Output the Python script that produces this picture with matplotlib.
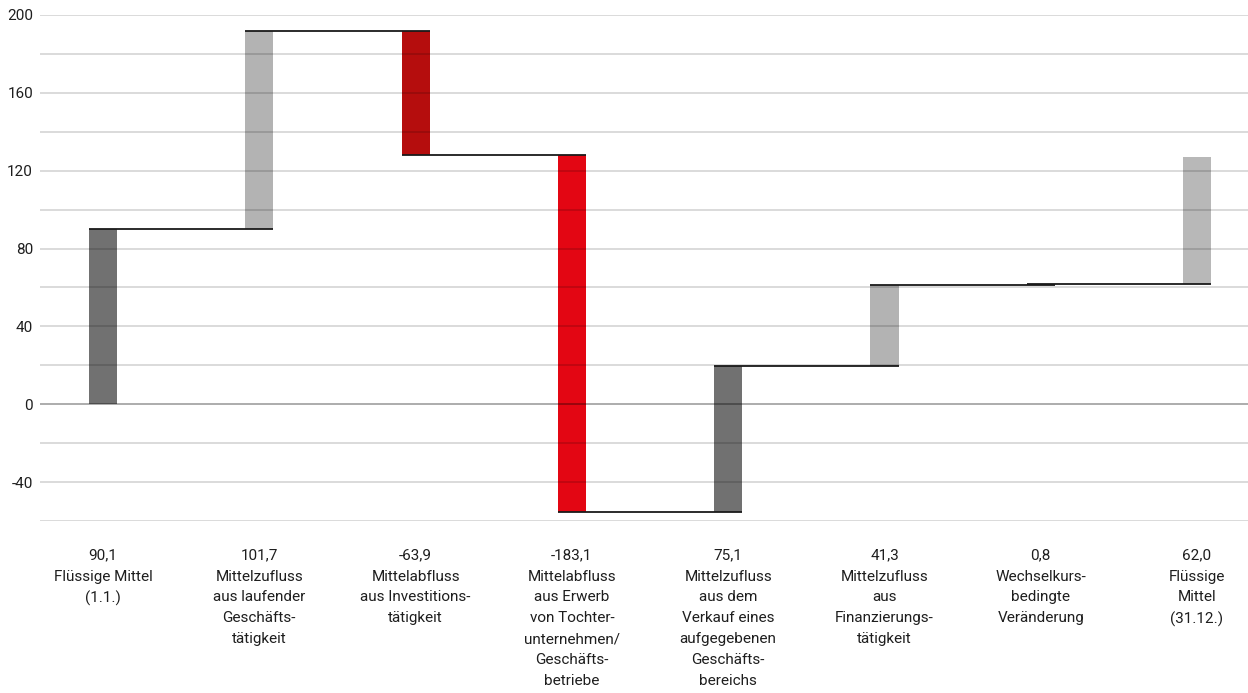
"""Waterfall chart: Entwicklung der flüssigen Mittel."""

import matplotlib
matplotlib.use("Agg")
import matplotlib.pyplot as plt
import numpy as np

plt.rcParams["font.family"] = ["Roboto", "DejaVu Sans"]

# data
VALUE_LABELS = ["90,1", "101,7", "-63,9", "-183,1", "75,1", "41,3", "0,8", "62,0"]
CATEGORIES = [
    "Flüssige Mittel\n(1.1.)",
    "Mittelzufluss\naus laufender\nGeschäfts-\ntätigkeit",
    "Mittelabfluss\naus Investitions-\ntätigkeit",
    "Mittelabfluss\naus Erwerb\nvon Tochter-\nunternehmen/\nGeschäfts-\nbetriebe",
    "Mittelzufluss\naus dem\nVerkauf eines\naufgegebenen\nGeschäfts-\nbereichs",
    "Mittelzufluss\naus\nFinanzierungs-\ntätigkeit",
    "Wechselkurs-\nbedingte\nVeränderung",
    "Flüssige\nMittel\n(31.12.)",
]
DELTAS = [90.1, 101.7, -63.9, -183.1, 75.1, 41.3, 0.8]
# the closing bar floats in the original picture
FINAL_BAR = (62.0, 127.0)

COLORS = ["#717171", "#b3b3b3", "#b50d0d", "#e30613",
          "#717171", "#b3b3b3", "#5a5a5a", "#b8b8b8"]
BAR_W = 0.18

fig = plt.figure(figsize=(12.48, 6.93), dpi=100)
ax = fig.add_axes([40 / 1248, 1 - 521 / 693, 1 - 40 / 1248, (521 - 15) / 693])

levels = np.concatenate([[0.0], np.cumsum(DELTAS)])
bottoms = list(levels[:-1]) + [FINAL_BAR[0]]
heights = list(np.diff(levels)) + [FINAL_BAR[1] - FINAL_BAR[0]]
x = np.arange(len(CATEGORIES))

ax.bar(x, heights, bottom=bottoms, width=BAR_W, color=COLORS, zorder=2)

# connector lines: from left edge of bar i to right edge of bar i+1
for i in range(len(DELTAS)):
    ax.plot([x[i] - BAR_W / 2, x[i + 1] + BAR_W / 2], [levels[i + 1]] * 2,
            color="#1a1a1a", lw=1.3, zorder=3, solid_capstyle="butt")

ax.set_xlim(-0.403, 7.326)
ax.set_ylim(-60, 200)
for g in np.arange(-60, 201, 20):
    ax.axhline(g, color="black", alpha=0.17 if g != 0 else 0.38,
               lw=1.2, zorder=4)

ax.set_yticks(np.arange(-40, 201, 40))
ax.set_yticklabels([str(v) for v in range(-40, 201, 40)], fontsize=11, color="#1e1e1e")
ax.set_xticks(x)
ax.set_xticklabels([f"{v}\n{c}" for v, c in zip(VALUE_LABELS, CATEGORIES)],
                   fontsize=11, color="#1e1e1e", linespacing=1.62, va="top")
ax.tick_params(axis="both", length=0)
ax.tick_params(axis="x", pad=20)
ax.tick_params(axis="y", pad=5)
for s in ax.spines.values():
    s.set_visible(False)

fig.savefig("out.png", dpi=100)
